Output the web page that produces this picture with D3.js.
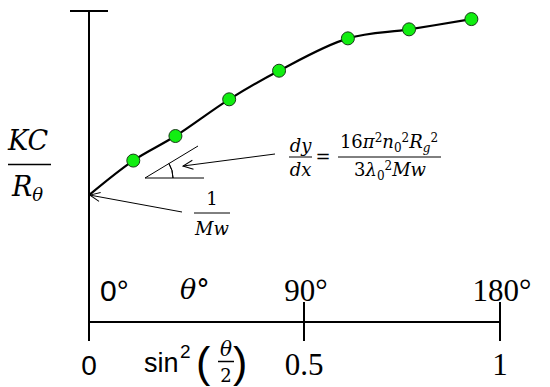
<!DOCTYPE html>
<html>
<head>
<meta charset="utf-8">
<script src="https://cdn.jsdelivr.net/npm/d3@7"></script>
<style>
  body { margin: 0; background: #fff; }
  svg { display: block; }
  .serif { font-family: "Liberation Serif", serif; }
  .math { font-family: "DejaVu Serif", serif; }
  .sans { font-family: "Liberation Sans", Arial, sans-serif; }
</style>
</head>
<body>
<div id="chart"></div>
<script>
// sin^2(theta/2) positions of the measured points and KC/R values (arbitrary units)
var sinSq = [0.103, 0.201, 0.326, 0.442, 0.612, 0.768, 0.927];
var kcr = [0.519, 0.598, 0.716, 0.808, 0.912, 0.941, 0.974];
var intercept = 0.408; // 1/Mw
var xTicks = [0, 0.5, 1];
var xTickLabels = ["0", "0.5", "1"];
var angleLabels = ["0°", "90°", "180°"];
var thetaPos = 0.246;

var width = 550, height = 387;
var svg = d3.select("#chart").append("svg")
    .attr("width", width)
    .attr("height", height);

// the drawing is schematic: 0.5 is not in the middle
var x = d3.scaleLinear()
    .domain([0, 0.5, 1])
    .range([89, 304, 500]);

var y = d3.scaleLinear()
    .domain([0, 1])
    .range([322, 11]);

var ink = "#000";

// open arrowheads
svg.append("defs").append("marker")
    .attr("id", "arr")
    .attr("viewBox", "0 0 12 12")
    .attr("refX", 11).attr("refY", 6)
    .attr("markerWidth", 12).attr("markerHeight", 12)
    .attr("markerUnits", "userSpaceOnUse")
    .attr("orient", "auto")
  .append("path")
    .attr("d", "M1,1.5 L11,6 L1,10.5")
    .attr("fill", "none")
    .attr("stroke", ink)
    .attr("stroke-width", 1);

// y axis with cap
svg.append("line")
    .attr("x1", x(0)).attr("x2", x(0))
    .attr("y1", y(1)).attr("y2", y(0) + 19)
    .attr("stroke", ink).attr("stroke-width", 2);
svg.append("line")
    .attr("x1", x(0) - 19).attr("x2", x(0) + 19)
    .attr("y1", y(1)).attr("y2", y(1))
    .attr("stroke", ink).attr("stroke-width", 2);

// x axis
svg.append("line")
    .attr("x1", x(0)).attr("x2", x(1))
    .attr("y1", y(0)).attr("y2", y(0))
    .attr("stroke", ink).attr("stroke-width", 2);

xTicks.forEach(function(t, i){
  if (t > 0) {
    svg.append("line")
      .attr("x1", x(t)).attr("x2", x(t))
      .attr("y1", y(0) - 20).attr("y2", y(0) + 19)
      .attr("stroke", ink).attr("stroke-width", 2);
  }
  svg.append("text")
    .attr("class", i == 0 ? "sans" : "serif")
    .attr("x", x(t))
    .attr("y", 375)
    .attr("text-anchor", "middle")
    .style("font-size", i == 0 ? "28px" : "31px")
    .text(xTickLabels[i]);

  svg.append("text")
    .attr("class", i == 0 ? "sans" : "serif")
    .attr("x", i == 0 ? x(t) + 11 : x(t) + 2)
    .attr("y", 301)
    .attr("text-anchor", i == 0 ? "start" : "middle")
    .style("font-size", i == 0 ? "30px" : "31px")
    .text(angleLabels[i]);
});

svg.append("text")
  .attr("class", "math")
  .attr("x", x(thetaPos))
  .attr("y", 299)
  .attr("text-anchor", "middle")
  .style("font-size", "27px")
  .style("font-style", "italic")
  .text("θ°");

// sin^2(theta/2)
var sl = svg.append("g").attr("transform", "translate(144,372)");
sl.append("text").attr("class", "sans").style("font-size", "27px").text("sin");
sl.append("text").attr("class", "sans").attr("x", 36).attr("y", -14).style("font-size", "19px").text("2");
sl.append("text").attr("class", "sans").attr("x", 52).attr("y", 5).style("font-size", "43px").text("(");
sl.append("text").attr("class", "math").attr("x", 82).attr("y", -16).attr("text-anchor", "middle")
  .style("font-size", "20px").style("font-style", "italic").text("θ");
sl.append("line").attr("x1", 74).attr("x2", 90).attr("y1", -10.5).attr("y2", -10.5).attr("stroke", ink).attr("stroke-width", 1.5);
sl.append("text").attr("class", "math").attr("x", 82).attr("y", 10).attr("text-anchor", "middle")
  .style("font-size", "18px").text("2");
sl.append("text").attr("class", "sans").attr("x", 89).attr("y", 5).style("font-size", "43px").text(")");

// KC / R_theta
var yl = svg.append("g").attr("class", "math").style("font-style", "italic");
yl.append("text").attr("x", 8).attr("y", 150).style("font-size", "27px").text("KC");
yl.append("line").attr("x1", 8).attr("x2", 51).attr("y1", 164.5).attr("y2", 164.5).attr("stroke", ink).attr("stroke-width", 1.5);
var rt = yl.append("text").attr("x", 12).attr("y", 196).style("font-size", "27px");
rt.append("tspan").text("R");
rt.append("tspan").attr("dy", 5).style("font-size", "18px").text("θ");

// curve
var pts = [[0, intercept]].concat(sinSq.map(function(d, i){ return [d, kcr[i]]; }));
var line = d3.line()
    .x(function(d){ return x(d[0]); })
    .y(function(d){ return y(d[1]); })
    .curve(d3.curveCatmullRom.alpha(0.5));

svg.append("path")
    .datum(pts)
    .attr("d", line)
    .attr("fill", "none")
    .attr("stroke", ink)
    .attr("stroke-width", 2.2);

svg.selectAll("circle.pt")
    .data(sinSq)
  .enter().append("circle")
    .attr("class", "pt")
    .attr("cx", function(d){ return x(d); })
    .attr("cy", function(d, i){ return y(kcr[i]); })
    .attr("r", 6.5)
    .attr("fill", "#11ee11")
    .attr("stroke", "#1a3a1a")
    .attr("stroke-width", 1);

// slope triangle
svg.append("line").attr("x1", 145).attr("y1", 178).attr("x2", 204).attr("y2", 178).attr("stroke", ink).attr("stroke-width", 1);
svg.append("line").attr("x1", 145).attr("y1", 178).attr("x2", 198).attr("y2", 146).attr("stroke", ink).attr("stroke-width", 1);
svg.append("path")
    .attr("transform", "translate(145,178)")
    .attr("d", d3.arc()({innerRadius: 28, outerRadius: 28, startAngle: Math.PI / 2 - Math.atan2(32, 53), endAngle: Math.PI / 2}))
    .attr("fill", "none").attr("stroke", ink).attr("stroke-width", 1);

svg.append("line").attr("x1", 275).attr("y1", 154).attr("x2", 183).attr("y2", 166)
    .attr("stroke", ink).attr("stroke-width", 1).attr("marker-end", "url(#arr)");
svg.append("line").attr("x1", 182).attr("y1", 212).attr("x2", x(0) + 1).attr("y2", y(intercept))
    .attr("stroke", ink).attr("stroke-width", 1).attr("marker-end", "url(#arr)");

// 1/Mw
var mw = svg.append("g").attr("class", "math");
mw.append("text").attr("x", 212).attr("y", 205).attr("text-anchor", "middle").style("font-size", "18px").text("1");
mw.append("line").attr("x1", 194).attr("x2", 230).attr("y1", 213).attr("y2", 213).attr("stroke", ink).attr("stroke-width", 1);
mw.append("text").attr("x", 212).attr("y", 235).attr("text-anchor", "middle").style("font-size", "18px").style("font-style", "italic").text("Mw");

// dy/dx = 16 pi^2 n0^2 Rg^2 / 3 lambda0^2 Mw
var fm = svg.append("g").attr("class", "math").style("font-size", "18px");
fm.append("text").attr("x", 300.5).attr("y", 152).attr("text-anchor", "middle").style("font-style", "italic").text("dy");
fm.append("line").attr("x1", 289).attr("x2", 312).attr("y1", 157).attr("y2", 157).attr("stroke", ink).attr("stroke-width", 1);
fm.append("text").attr("x", 300.5).attr("y", 176).attr("text-anchor", "middle").style("font-style", "italic").text("dx");
fm.append("text").attr("x", 323).attr("y", 163).attr("text-anchor", "middle").text("=");

var num = fm.append("text").attr("x", 389).attr("y", 148).attr("text-anchor", "middle");
num.append("tspan").text("16");
num.append("tspan").style("font-style", "italic").text("π");
num.append("tspan").attr("dy", -6).style("font-size", "12px").text("2");
num.append("tspan").attr("dy", 6).style("font-style", "italic").text("n");
num.append("tspan").attr("dy", 4).style("font-size", "12px").text("0");
num.append("tspan").attr("dy", -10).style("font-size", "12px").text("2");
num.append("tspan").attr("dy", 6).style("font-style", "italic").text("R");
num.append("tspan").attr("dy", 4).style("font-size", "12px").style("font-style", "italic").text("g");
num.append("tspan").attr("dy", -10).style("font-size", "12px").text("2");
fm.append("line").attr("x1", 338).attr("x2", 441).attr("y1", 157).attr("y2", 157).attr("stroke", ink).attr("stroke-width", 1);

var den = fm.append("text").attr("x", 390).attr("y", 176).attr("text-anchor", "middle");
den.append("tspan").text("3");
den.append("tspan").style("font-style", "italic").text("λ");
den.append("tspan").attr("dy", 4).style("font-size", "12px").text("0");
den.append("tspan").attr("dy", -10).style("font-size", "12px").text("2");
den.append("tspan").attr("dy", 6).style("font-style", "italic").text("Mw");
</script>
</body>
</html>
